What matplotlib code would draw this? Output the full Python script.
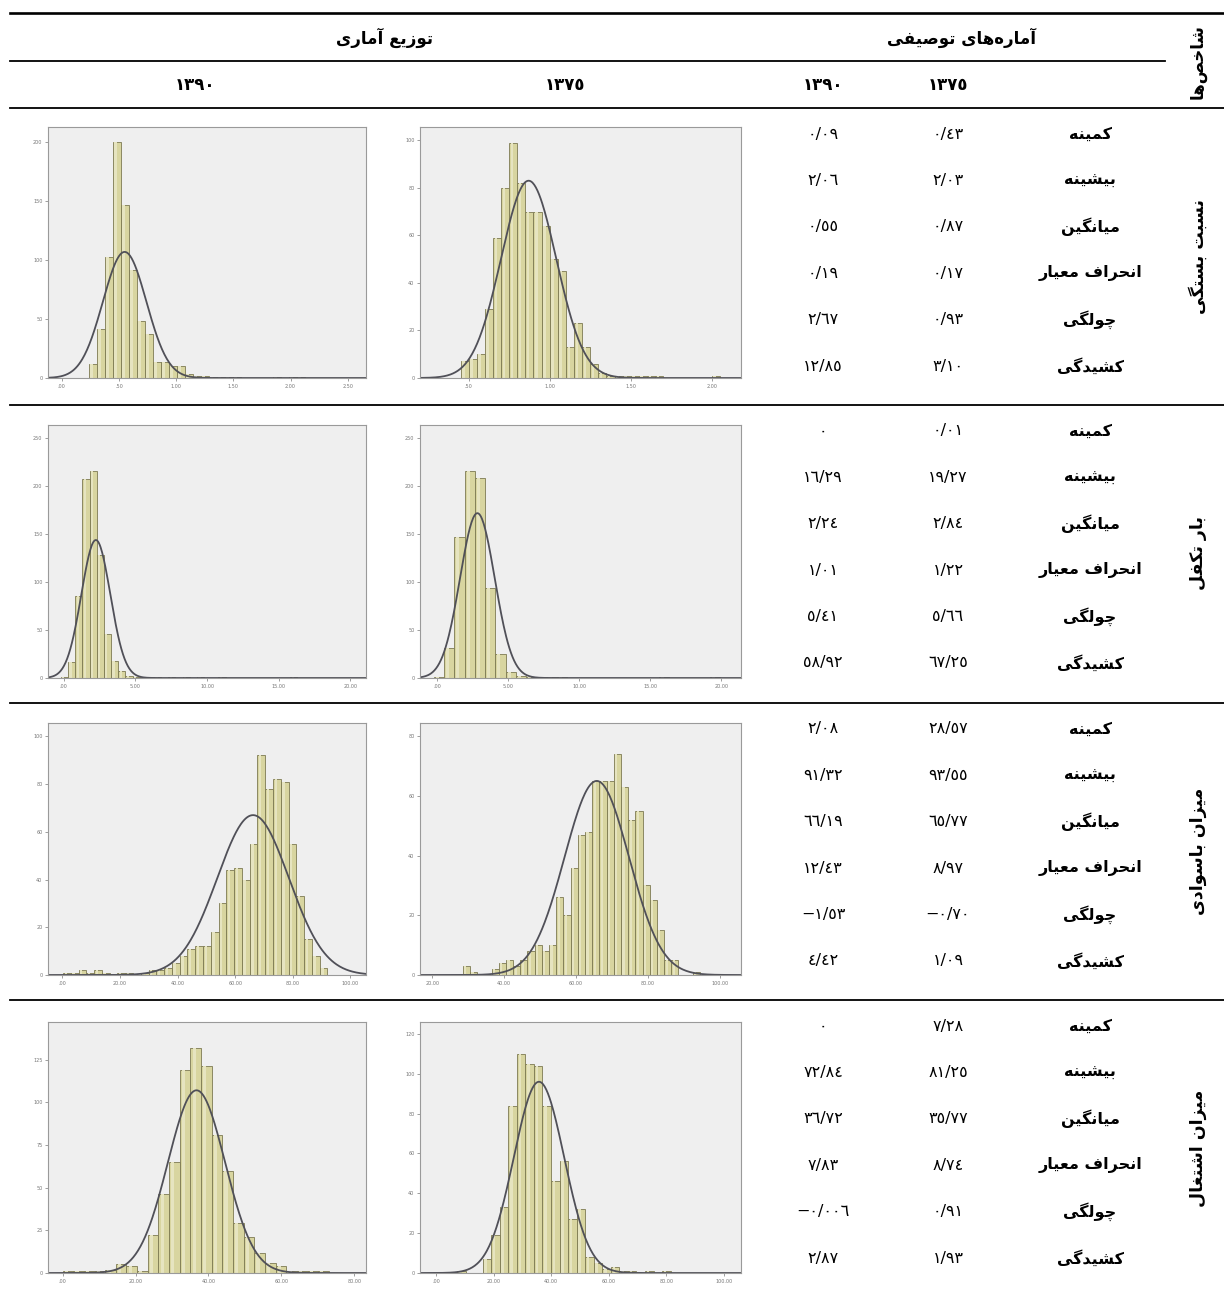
import numpy as np
import matplotlib
matplotlib.use('Agg')
import matplotlib.pyplot as plt

plt.rcParams['font.family'] = ['DejaVu Sans']

# ---------------- table data ----------------
stat_names = ['کمینه', 'بیشینه', 'میانگین', 'انحراف معیار', 'چولگی', 'کشیدگی']
indicators = ['نسبت بستگی', 'بار تکفل', 'میزان باسوادی', 'میزان اشتغال']
year_labels = ['1375', '1390']

stats_1375 = [
    ['0.43', '2.03', '0.87', '0.17', '0.93', '3.10'],
    ['0.01', '19.27', '2.84', '1.22', '5.66', '67.25'],
    ['28.57', '93.55', '65.77', '8.97', '-0.70', '1.09'],
    ['7.28', '81.25', '35.77', '8.74', '0.91', '1.93'],
]
stats_1390 = [
    ['0.09', '2.06', '0.55', '0.19', '2.67', '12.85'],
    ['0', '16.29', '2.24', '1.01', '5.41', '58.92'],
    ['2.08', '91.32', '66.19', '12.43', '-1.53', '4.42'],
    ['0', '72.84', '36.72', '7.83', '-0.006', '2.87'],
]

# ---------------- histogram data ----------------
bin_start_1390 = [0.235, -0.2, 0.2, 0.0]
bin_width_1390 = [0.07, 0.5, 2.7, 2.92]
counts_1390 = [
    [12, 42, 103, 200, 147, 92, 48, 37, 14, 14, 10, 10, 3, 2, 2, 1, 1, 1, 1, 0, 0, 0, 0, 1, 0, 1, 1],
    [1, 17, 86, 208, 216, 128, 46, 18, 7, 2, 1, 1, 1, 1, 0, 1, 0, 1, 0, 1, 0, 0, 1, 0, 0, 0, 0, 0, 0, 0, 0, 0, 1],
    [1, 1, 2, 1, 2, 1, 0, 1, 1, 0, 1, 2, 2, 3, 5, 8, 11, 12, 12, 18, 30, 44, 45, 40, 55, 92, 78, 82, 81, 55, 33, 15, 8, 3],
    [1, 1, 1, 1, 2, 5, 4, 1, 22, 46, 65, 119, 132, 121, 81, 60, 29, 21, 12, 6, 4, 1, 1, 1, 1],
]
curve_peak_1390 = [107, 144, 67, 107]

bin_start_1375 = [0.45, -0.22, 28.5, 7.28]
bin_width_1375 = [0.05, 0.72, 2.0, 2.97]
counts_1375 = [
    [7, 8, 10, 29, 59, 80, 99, 82, 70, 70, 64, 50, 45, 13, 23, 13, 6, 2, 1, 1, 1, 1, 1, 1, 1, 0, 0, 0, 0, 0, 0, 1],
    [1, 31, 147, 216, 209, 94, 25, 6, 2, 1, 1, 1, 1, 0, 0, 0, 0, 0, 0, 0, 0, 0, 1, 0, 0, 0, 0, 1],
    [3, 1, 0, 0, 2, 4, 5, 3, 5, 8, 10, 8, 10, 26, 20, 36, 47, 48, 65, 65, 65, 74, 63, 52, 55, 30, 25, 15, 5, 5, 0, 0, 1],
    [1, 0, 0, 7, 19, 33, 84, 110, 105, 104, 84, 46, 56, 27, 32, 8, 5, 2, 3, 1, 1, 0, 1, 0, 1],
]
curve_peak_1375 = [83, 172, 65, 96]

# axis scales of the SPSS panels
xlim_1390 = [(-0.12, 2.66), (-1.1, 21.1), (-5, 105.4), (-4, 83.2)]
xticks_1390 = [[0, 0.5, 1, 1.5, 2, 2.5], [0, 5, 10, 15, 20], [0, 20, 40, 60, 80, 100], [0, 20, 40, 60, 80]]
ylim_1390 = [213, 264, 105.6, 147]
yticks_1390 = [[0, 50, 100, 150, 200], [0, 50, 100, 150, 200, 250], [0, 20, 40, 60, 80, 100], [0, 25, 50, 75, 100, 125]]

xlim_1375 = [(0.2, 2.18), (-1.2, 21.4), (16.6, 105.9), (-5.6, 106)]
xticks_1375 = [[0.5, 1, 1.5, 2], [0, 5, 10, 15, 20], [20, 40, 60, 80, 100], [0, 20, 40, 60, 80, 100]]
ylim_1375 = [105.6, 264, 84.4, 126]
yticks_1375 = [[0, 20, 40, 60, 80, 100], [0, 50, 100, 150, 200, 250], [0, 20, 40, 60, 80], [0, 20, 40, 60, 80, 100, 120]]


# ---------------- minimal Persian shaping (matplotlib has no RTL shaping) ----------------
JOIN = {
    '\u0622': (0xFE81, 0xFE82), '\u0627': (0xFE8D, 0xFE8E),
    '\u0628': (0xFE8F, 0xFE90, 0xFE91, 0xFE92), '\u062A': (0xFE95, 0xFE96, 0xFE97, 0xFE98),
    '\u062D': (0xFEA1, 0xFEA2, 0xFEA3, 0xFEA4), '\u062E': (0xFEA5, 0xFEA6, 0xFEA7, 0xFEA8),
    '\u062F': (0xFEA9, 0xFEAA), '\u0631': (0xFEAD, 0xFEAE), '\u0632': (0xFEAF, 0xFEB0),
    '\u0633': (0xFEB1, 0xFEB2, 0xFEB3, 0xFEB4), '\u0634': (0xFEB5, 0xFEB6, 0xFEB7, 0xFEB8),
    '\u0635': (0xFEB9, 0xFEBA, 0xFEBB, 0xFEBC), '\u0639': (0xFEC9, 0xFECA, 0xFECB, 0xFECC),
    '\u063A': (0xFECD, 0xFECE, 0xFECF, 0xFED0), '\u0641': (0xFED1, 0xFED2, 0xFED3, 0xFED4),
    '\u0644': (0xFEDD, 0xFEDE, 0xFEDF, 0xFEE0), '\u0645': (0xFEE1, 0xFEE2, 0xFEE3, 0xFEE4),
    '\u0646': (0xFEE5, 0xFEE6, 0xFEE7, 0xFEE8), '\u0647': (0xFEE9, 0xFEEA, 0xFEEB, 0xFEEC),
    '\u0648': (0xFEED, 0xFEEE),
    '\u0686': (0xFB7A, 0xFB7B, 0xFB7C, 0xFB7D), '\u06A9': (0xFB8E, 0xFB8F, 0xFB90, 0xFB91),
    '\u06AF': (0xFB92, 0xFB93, 0xFB94, 0xFB95), '\u06CC': (0xFBFC, 0xFBFD, 0xFBFE, 0xFBFF),
}


def fa(s):
    out = []
    for i, c in enumerate(s):
        if c not in JOIN:
            out.append(c)
            continue
        p = s[i - 1] if i > 0 else ''
        n = s[i + 1] if i + 1 < len(s) else ''
        left = p in JOIN and len(JOIN[p]) == 4
        right = len(JOIN[c]) == 4 and n in JOIN
        f = JOIN[c]
        if left and right:
            g = f[3]
        elif left:
            g = f[1]
        elif right:
            g = f[2]
        else:
            g = f[0]
        out.append(chr(g))
    return ''.join(out).replace('\u200c', '')[::-1]


def num(s):
    return s.translate(str.maketrans('0123456789.-', '٠١٢٣٤٥٦٧٨٩/−'))


def spss_fmt(v):
    t = '%.2f' % v
    return t[1:] if t.startswith('0.') else t


W, H = 1224, 1296
fig = plt.figure(figsize=(W / 100, H / 100), dpi=100)
fig.patch.set_facecolor('white')

ov = fig.add_axes([0, 0, 1, 1])
ov.set_xlim(0, W)
ov.set_ylim(H, 0)
ov.axis('off')

# rules of the table
ov.plot([10, W], [13, 13], color='black', lw=1.9)
ov.plot([10, 1165], [61, 61], color='black', lw=1.3)
ov.plot([10, W], [108, 108], color='black', lw=1.3)
sec_tops = [108, 405, 703, 1000]
for y in sec_tops[1:]:
    ov.plot([10, W], [y, y], color='black', lw=1.3)

# header
ov.text(385, 38, fa('توزیع آماری'), ha='center', va='center', fontsize=12, fontweight='bold')
ov.text(962, 38, fa('آماره\u200cهای توصیفی'), ha='center', va='center', fontsize=12, fontweight='bold')
ov.text(1198, 62, fa('شاخص\u200cها'), ha='center', va='center', fontsize=12, fontweight='bold', rotation=90)
for x, y_lab in [(195, year_labels[1]), (565, year_labels[0]), (823, year_labels[1]), (948, year_labels[0])]:
    ov.text(x, 85, num(y_lab), ha='center', va='center', fontsize=12, fontweight='bold')

# statistics columns
for k, top in enumerate(sec_tops):
    for j, name in enumerate(stat_names):
        y = top + 26 + 46.4 * j
        ov.text(1090, y, fa(name), ha='center', va='center', fontsize=11.5, fontweight='bold')
        ov.text(948, y, num(stats_1375[k][j]), ha='center', va='center', fontsize=11.5)
        ov.text(823, y, num(stats_1390[k][j]), ha='center', va='center', fontsize=11.5)
    ov.text(1198, top + 148, fa(indicators[k]), ha='center', va='center', fontsize=12.5,
            fontweight='bold', rotation=90)


def px_axes(x0, y0, x1, y1):
    return fig.add_axes([x0 / W, 1 - y1 / H, (x1 - x0) / W, (y1 - y0) / H])


def draw_hist(ax, start, width, counts, mean, sd, peak, xlim, xticks, ylim, yticks):
    edges = start + width * np.arange(len(counts))
    ax.set_facecolor('#efefef')
    ax.bar(edges, counts, width=width, align='edge', color='#d8d5a0', edgecolor='#7d7a52', lw=0.6)
    # light highlight stripe inside each bar (SPSS shading)
    ax.bar(edges + 0.2 * width, counts, width=0.3 * width, align='edge', color='#e6e4c0', lw=0)
    xs = np.linspace(xlim[0], xlim[1], 400)
    ax.plot(xs, peak * np.exp(-0.5 * ((xs - mean) / sd) ** 2), color='#505058', lw=1.3)
    ax.set_xlim(*xlim)
    ax.set_ylim(0, ylim)
    ax.set_xticks(xticks)
    ax.set_xticklabels([spss_fmt(v) for v in xticks])
    ax.set_yticks(yticks)
    ax.set_yticklabels([str(v) for v in yticks])
    ax.tick_params(labelsize=3.5, length=2, width=0.5, colors='#777777', pad=2)
    for sp in ax.spines.values():
        sp.set_color('#9a9a9a')
        sp.set_linewidth(0.8)


panel_top = [127, 425, 723, 1022]
panel_bot = [378, 678, 975, 1273]
for k in range(4):
    a = px_axes(48, panel_top[k], 366, panel_bot[k])
    draw_hist(a, bin_start_1390[k], bin_width_1390[k], counts_1390[k],
              float(stats_1390[k][2]), float(stats_1390[k][3]), curve_peak_1390[k],
              xlim_1390[k], xticks_1390[k], ylim_1390[k], yticks_1390[k])
    b = px_axes(420, panel_top[k], 741, panel_bot[k])
    draw_hist(b, bin_start_1375[k], bin_width_1375[k], counts_1375[k],
              float(stats_1375[k][2]), float(stats_1375[k][3]), curve_peak_1375[k],
              xlim_1375[k], xticks_1375[k], ylim_1375[k], yticks_1375[k])

fig.savefig('out.png', dpi=100)
